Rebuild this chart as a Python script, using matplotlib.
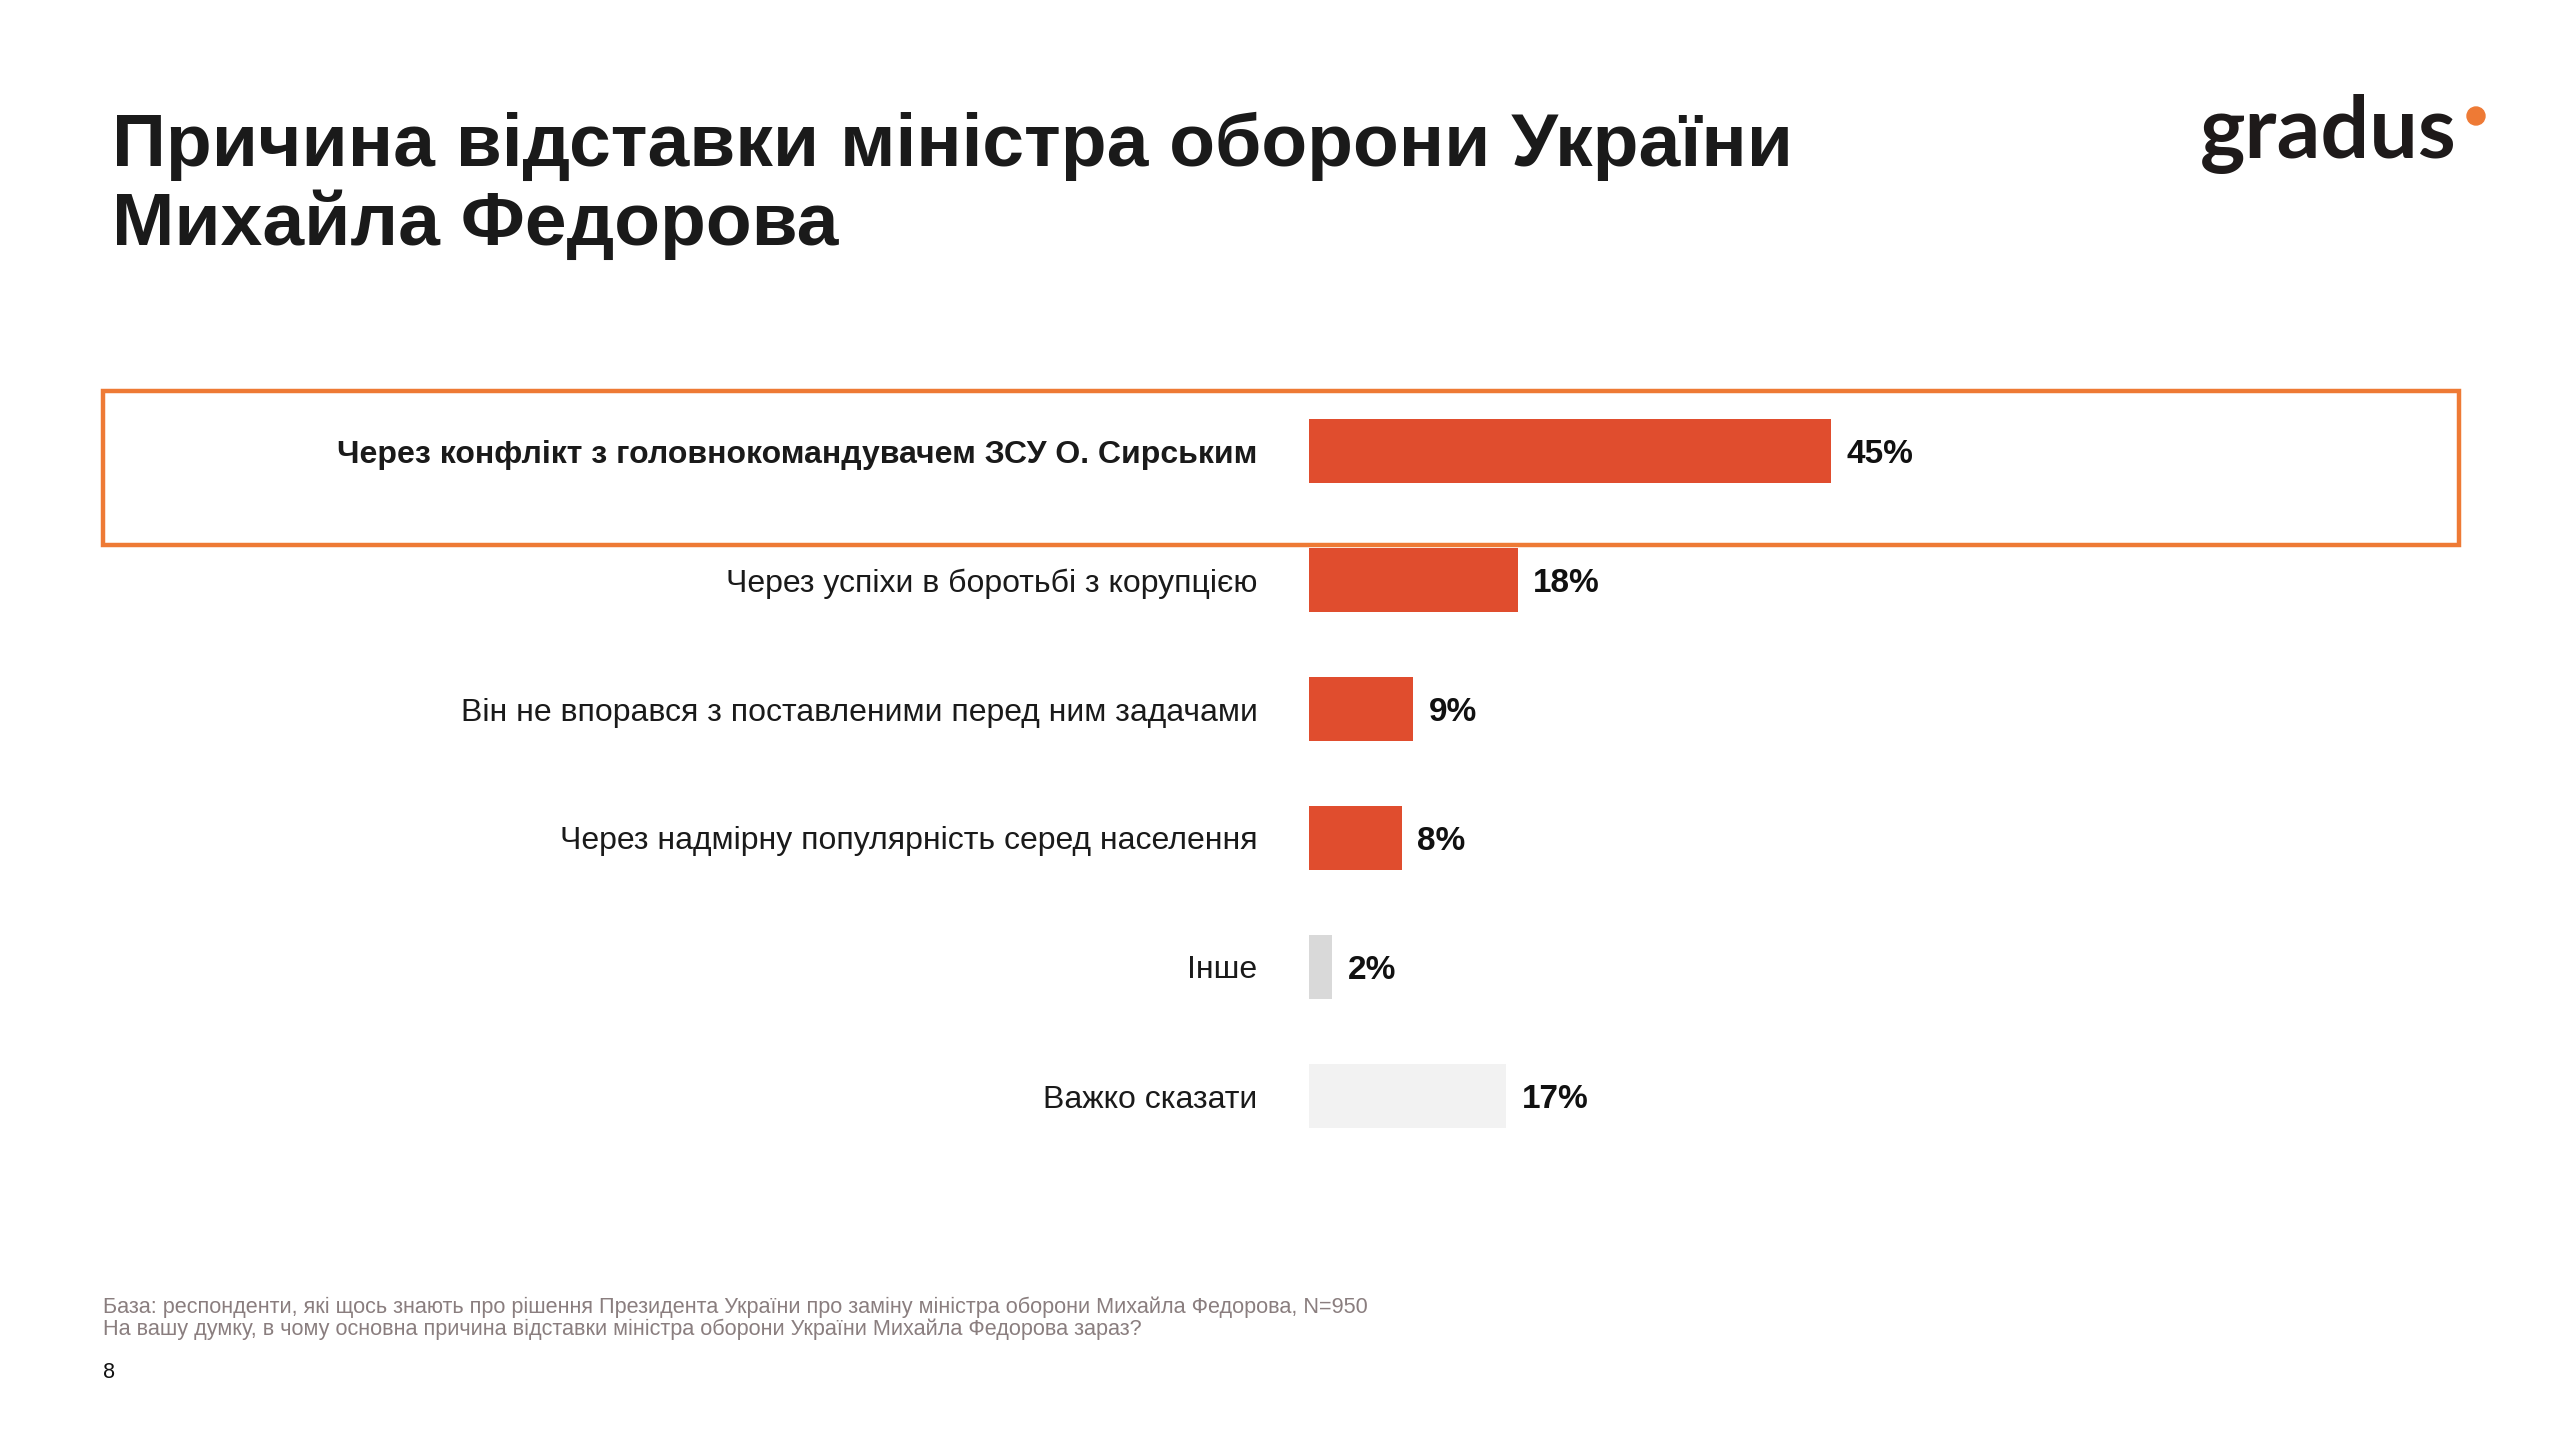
import matplotlib
matplotlib.use("Agg")
import matplotlib.pyplot as plt
from matplotlib.patches import Rectangle, Circle

plt.rcParams['font.family'] = ['Liberation Sans', 'DejaVu Sans']

# ---- data ----
categories = [
    "Через конфлікт з головнокомандувачем ЗСУ О. Сирським",
    "Через успіхи в боротьбі з корупцією",
    "Він не впорався з поставленими перед ним задачами",
    "Через надмірну популярність серед населення",
    "Інше",
    "Важко сказати",
]
values = [45, 18, 9, 8, 2, 17]
bar_colors = ["#E04D2E", "#E04D2E", "#E04D2E", "#E04D2E", "#D9D9D9", "#F2F2F2"]

title_lines = ["Причина відставки міністра оборони України", "Михайла Федорова"]
footnotes = [
    "База: респонденти, які щось знають про рішення Президента України про заміну міністра оборони Михайла Федорова, N=950",
    "На вашу думку, в чому основна причина відставки міністра оборони України Михайла Федорова зараз?",
]
page_number = "8"
logo_text = "gradus"

# ---- figure ----
W, H = 2560, 1436
DPI = 100
fig = plt.figure(figsize=(W / DPI, H / DPI), dpi=DPI)
fig.patch.set_facecolor("white")

def fx(px):
    return px / W

def fy(py):
    return 1 - py / H

# overlay axes in pixel coordinates for decorations
ov = fig.add_axes([0, 0, 1, 1], zorder=0)
ov.set_xlim(0, W)
ov.set_ylim(H, 0)
ov.axis("off")

# highlight box around first row
ov.add_patch(Rectangle((103, 391), 2459 - 103, 545 - 391, fill=False,
                       edgecolor="#EE7A35", linewidth=3.2))

# bar axes
x0, x1 = 1309, 2469        # 0% .. 100%
ytop, ybot = 386.5, 1160.5
ax = fig.add_axes([fx(x0), fy(ybot), fx(x1) - fx(x0), (ybot - ytop) / H], zorder=1)
ax.patch.set_alpha(0)
ypos = list(range(len(categories)))
ax.barh(ypos, values, height=0.5, color=bar_colors, edgecolor="none")
ax.set_xlim(0, 100)
ax.set_ylim(len(categories) - 0.5, -0.5)
ax.set_xticks([])
ax.set_yticks(ypos)
ax.set_yticklabels(categories, fontsize=23, color="#1A1A1A")
ax.tick_params(axis="y", length=0, pad=37)
ax.get_yticklabels()[0].set_fontweight("bold")
for s in ax.spines.values():
    s.set_visible(False)

for i, v in enumerate(values):
    ax.annotate(f"{v}%", xy=(v, i), xytext=(11, 0), textcoords="offset points",
                va="center_baseline", ha="left", fontsize=24, fontweight="bold",
                color="#111111")

# title
fig.text(fx(112), fy(166), title_lines[0], fontsize=54, fontweight="bold",
         color="#1A1A1A", va="baseline", ha="left")
fig.text(fx(112), fy(245), title_lines[1], fontsize=54, fontweight="bold",
         color="#1A1A1A", va="baseline", ha="left")

# logo
fig.text(fx(2200), fy(158), logo_text, fontsize=62, family=["Lato", "DejaVu Sans"],
         fontweight="bold", color="#1E1A1A", va="baseline", ha="left")
ov.add_patch(Circle((2476, 116), 9, color="#EE7A35"))

# footnotes
fig.text(fx(103), fy(1313), footnotes[0], fontsize=15.6, color="#8A7E7F",
         va="baseline", ha="left")
fig.text(fx(103), fy(1335), footnotes[1], fontsize=15.6, color="#8A7E7F",
         va="baseline", ha="left")
fig.text(fx(103), fy(1378), page_number, fontsize=15.6, color="#111111",
         va="baseline", ha="left")

fig.savefig("out.png", dpi=DPI, facecolor="white")
